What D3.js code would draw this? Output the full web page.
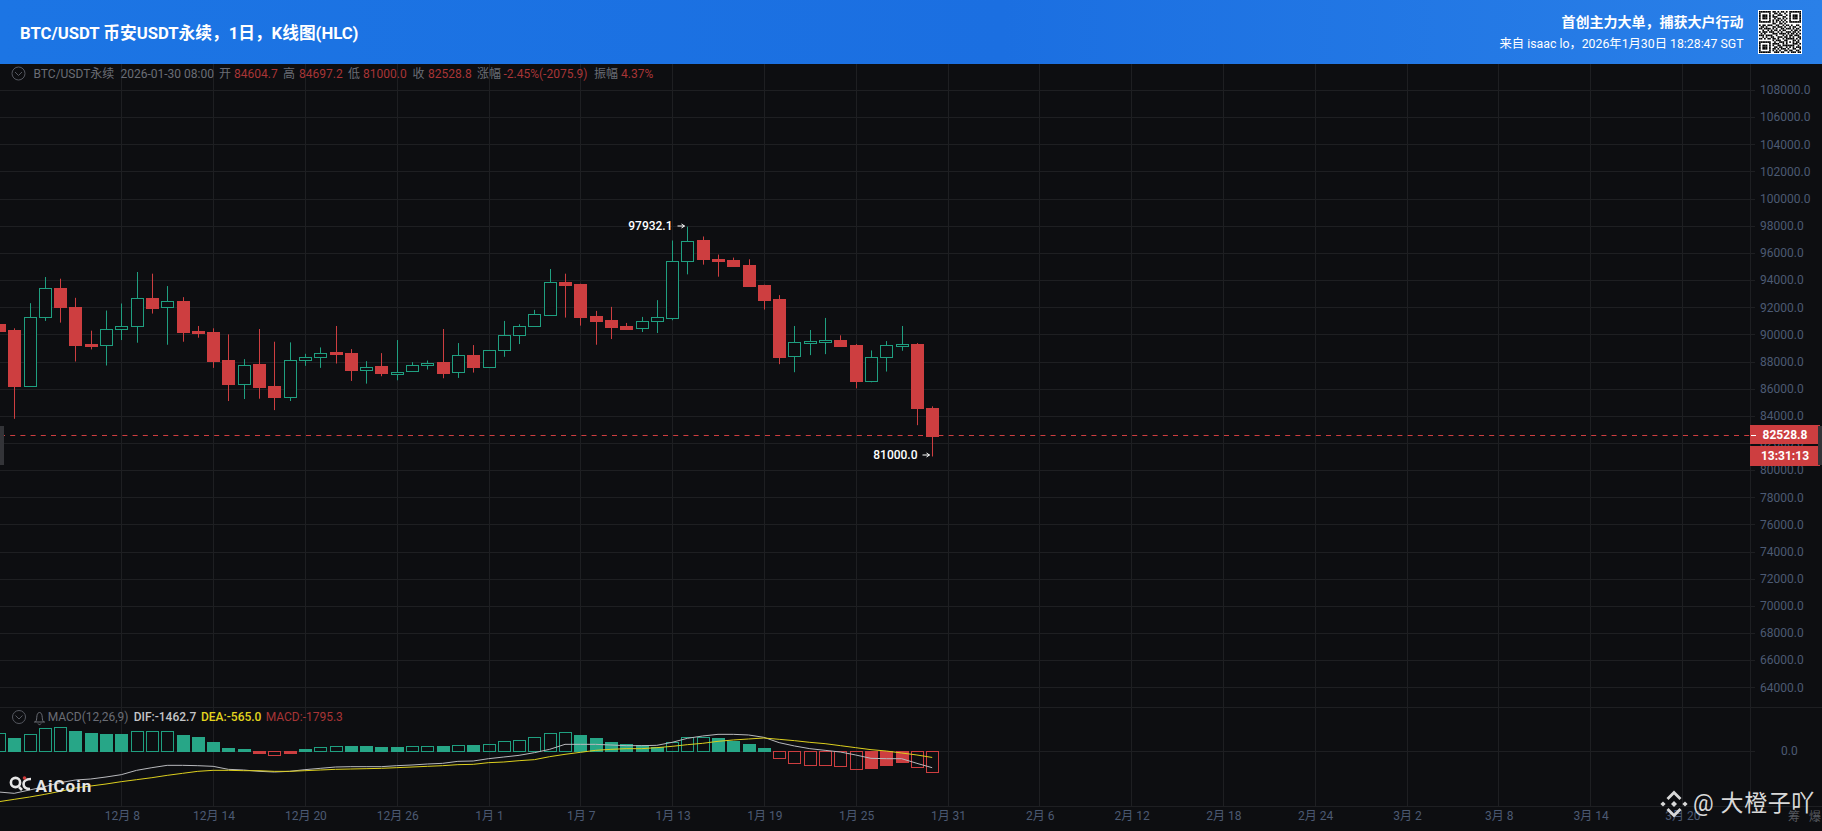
<!DOCTYPE html>
<html>
<head>
<meta charset="utf-8">
<script src="https://cdnjs.cloudflare.com/ajax/libs/d3/7.8.5/d3.min.js"></script>
<style>
html, body { margin: 0; padding: 0; background: #0d0e11; overflow: hidden; }
svg { display: block; }
text { font-family: Roboto, "Noto Sans CJK SC", sans-serif; }
</style>
</head>
<body>
<script>
// 日线数据，从 11月30日 到 1月30日
const firstDay = "2025-11-30";
const opens = [90766,90321,86198,91259,93407,92000,89284,89185,90370,90593,92691,92000,92469,90247,90173,88099,86346,87803,86173,85383,88074,88296,88691,88617,87383,87655,87136,87309,87753,87951,87161,88444,
    87556,88790,89901,90568,91457,93852,93728,91358,91062,90617,90420,90938,91235,95383,96914,95580,95506,95136,93654,92617,88346,89383,89457,89580,89210,86543,88272,89136,89284,84604.7];
const highs = [90850,90445,92296,94222,94099,92691,90272,91753,92272,94593,94469,93556,92741,90617,90445,90000,88173,90395,89457,89408,88568,89037,90617,88914,88025,88617,89580,87951,88074,90395,89358,89210,
    88815,90988,90741,91803,94815,94469,93728,91728,92025,90840,91284,92519,96914,97932.1,97210,95877,95654,95531,93654,92889,90617,90321,91210,89926,89284,88815,89506,90617,89358,84697.2];
const lows = [90200,83778,86124,90988,90864,88000,88889,87704,89580,89383,91531,89235,89457,89753,87531,85087,85235,85259,84420,85087,87679,87531,87852,86568,86370,86914,86617,87235,87408,86766,86790,87185,
    87556,88346,89284,90568,91457,91235,90642,89235,89654,90346,90173,90099,91037,94420,95136,94247,94988,93580,91827,87803,87210,88469,88543,89136,86025,86469,87259,88790,83309,81000];
const closes = [90247,86198,91259,93407,91975,89235,89160,90370,90593,92667,91975,92445,90198,90124,88049,86346,87778,86099,85358,88074,88296,88593,88543,87358,87630,87136,87260,87778,87926,87136,88444,87531,
    88815,89926,90593,91482,93852,93654,91309,90988,90543,90395,90963,91259,95407,96889,95506,95457,95062,93580,92543,88321,89407,89506,89580,89136,86543,88321,89185,89309,84543,82528.8];

const macdValues = [1548,1139,1460,1986,2073,1752,1577,1489,1489,1723,1723,1723,1402,1226,788,263,175,-146,-380,-146,175,321,409,438,438,380,380,438,438,438,496,526,
    584,847,993,1197,1548,1635,1402,1139,788,613,496,350,759,1197,1197,1139,905,613,263,-584,-1022,-1197,-1197,-1285,-1548,-1460,-1197,-964,-1372,-1795.3];
const macdFilled = [0,1,0,0,0,1,1,1,1,0,0,0,1,1,1,1,1,1,0,1,1,0,0,1,1,1,1,0,0,1,0,1,
    0,0,0,0,0,0,1,1,1,1,1,1,0,0,0,1,1,1,1,0,0,0,0,0,0,1,1,1,0,0];
const difValues = [-3592,-3708,-3416,-3124,-2774,-2540,-2453,-2278,-2073,-1694,-1460,-1256,-1256,-1285,-1343,-1606,-1664,-1781,-1840,-1781,-1635,-1518,-1402,-1372,-1372,-1372,-1285,-1226,-1139,-1080,-905,-876,
    -672,-526,-380,-146,146,584,584,584,526,467,467,496,759,1110,1314,1460,1460,1402,1197,730,438,204,58,-88,-350,-642,-672,-672,-1080,-1462.7];
const deaValues = [-4438,-4234,-4030,-3796,-3533,-3241,-3066,-2891,-2686,-2511,-2336,-2132,-1956,-1781,-1694,-1694,-1723,-1723,-1781,-1781,-1723,-1664,-1606,-1577,-1548,-1518,-1460,-1402,-1343,-1285,-1197,-1168,
    -1022,-964,-847,-759,-496,-292,-117,58,146,204,204,292,409,555,672,847,964,1051,1139,1022,905,759,642,467,292,117,0,-175,-350,-565];

const priceTicks = d3.range(64000, 108001, 2000);
const dateTicks = ["2025-12-08","2025-12-14","2025-12-20","2025-12-26","2026-01-01","2026-01-07","2026-01-13","2026-01-19","2026-01-25","2026-01-31",
    "2026-02-06","2026-02-12","2026-02-18","2026-02-24","2026-03-02","2026-03-08","2026-03-14","2026-03-20"];

const lastPrice = 82528.8;
const countdown = "13:31:13";
const infoItems = [
    {x: 33.5, t: "BTC/USDT永续", c: "grey"}, {x: 120.5, t: "2026-01-30 08:00", c: "grey"},
    {x: 219, t: "开", c: "grey"}, {x: 234, t: "84604.7", c: "red"},
    {x: 283, t: "高", c: "grey"}, {x: 299, t: "84697.2", c: "red"},
    {x: 348, t: "低", c: "grey"}, {x: 363, t: "81000.0", c: "red"},
    {x: 412.5, t: "收", c: "grey"}, {x: 428, t: "82528.8", c: "red"},
    {x: 477, t: "涨幅", c: "grey"}, {x: 503.5, t: "-2.45%(-2075.9)", c: "red"},
    {x: 594, t: "振幅", c: "grey"}, {x: 621, t: "4.37%", c: "red"}
];
// 二维码，只是装饰
const qrRows = [
    "1111111011010110101111111",
    "1000001001101001001000001",
    "1011101010011100101011101",
    "1011101011100011001011101",
    "1011101001011010101011101",
    "1000001010110101001000001",
    "1111111010101010101111111",
    "0000000011001101000000000",
    "1011011100110010110100110",
    "0110100011011101001011001",
    "1101111010100110111010110",
    "0010010101101011000101101",
    "1011101110010100111011010",
    "0101000011101111010110101",
    "1110111100100010101101110",
    "0010100110011101101010011",
    "1101011011010010111110101",
    "0000000010111001100011010",
    "1111111001001110101010110",
    "1000001011110010100011101",
    "1011101010011011111110010",
    "1011101001101100101010111",
    "1011101011010111010011001",
    "1000001010101001101100110",
    "1111111001110110010111011"
];

const W = 1822, H = 831;
const BG = "#0d0e11", GRID = "#1e1f22", RED = "#cd3e40", GREEN = "#1f9f80", AXIS = "#4c5a73";
const chartRight = 1750, headerH = 64, paneTop = 707, paneBottom = 807;

const parseDay = d3.utcParse("%Y-%m-%d");
const day0 = parseDay(firstDay);
const candles = closes.map((c, i) => ({
    date: d3.utcDay.offset(day0, i), open: opens[i], high: highs[i], low: lows[i], close: c,
    macd: macdValues[i], filled: macdFilled[i], dif: difValues[i], dea: deaValues[i]
}));

const x = d3.scaleUtc().domain([parseDay("2025-12-08"), parseDay("2026-01-31")]).range([121.3, 947.5]);
const y = d3.scaleLinear().domain([64000, 108000]).range([687.3, 90]);
const yMacd = d3.scaleLinear().domain([-1795.3, 0]).range([771.5, 751]);
const px = d => Math.round(x(d)) + 0.5;
const bodyW = 12;

const svg = d3.select("body").append("svg").attr("width", W).attr("height", H);
svg.append("rect").attr("width", W).attr("height", H).attr("fill", BG);

// 页眉
const grad = svg.append("defs").append("linearGradient").attr("id", "hdr");
grad.append("stop").attr("offset", "0").attr("stop-color", "#1c75e4");
grad.append("stop").attr("offset", "0.55").attr("stop-color", "#1b6fe1");
grad.append("stop").attr("offset", "1").attr("stop-color", "#2a80e8");
svg.append("rect").attr("width", W).attr("height", headerH).attr("fill", "url(#hdr)");
svg.append("text").attr("x", 20).attr("y", 38.5).attr("fill", "#fff").attr("font-size", 16.7).attr("font-weight", 700)
    .text("BTC/USDT 币安USDT永续，1日，K线图(HLC)");
svg.append("text").attr("x", 1743.5).attr("y", 26.5).attr("text-anchor", "end").attr("fill", "#fff").attr("font-size", 14).attr("font-weight", 700)
    .text("首创主力大单，捕获大户行动");
svg.append("text").attr("x", 1743.5).attr("y", 48).attr("text-anchor", "end").attr("fill", "#fff").attr("font-size", 12.3)
    .text("来自 isaac lo，2026年1月30日 18:28:47 SGT");

const qr = svg.append("g").attr("transform", "translate(1758,10)");
qr.append("rect").attr("width", 44).attr("height", 44).attr("fill", "#fff");
const qrCell = 42 / qrRows.length;
qrRows.forEach((row, r) => row.split("").forEach((b, c) => {
    if (b === "1") qr.append("rect").attr("x", 1 + c * qrCell).attr("y", 1 + r * qrCell)
        .attr("width", qrCell).attr("height", qrCell).attr("fill", "#000");
}));

// 网格和坐标轴
const grid = svg.append("g").attr("stroke", GRID).attr("stroke-width", 1);
const dateList = dateTicks.map(parseDay);
grid.selectAll(".v").data(dateList).enter().append("line")
    .attr("x1", d => px(d)).attr("x2", d => px(d)).attr("y1", headerH).attr("y2", paneBottom);
grid.selectAll(".h").data(priceTicks).enter().append("line")
    .attr("x1", 0).attr("x2", 1755).attr("y1", d => Math.round(y(d)) + 0.5).attr("y2", d => Math.round(y(d)) + 0.5);
grid.append("line").attr("x1", 0).attr("x2", 1755).attr("y1", yMacd(0) + 0.5).attr("y2", yMacd(0) + 0.5);
grid.append("line").attr("x1", 0).attr("x2", W).attr("y1", paneTop + 0.5).attr("y2", paneTop + 0.5);
grid.append("line").attr("x1", 0).attr("x2", W).attr("y1", paneBottom - 0.5).attr("y2", paneBottom - 0.5);
grid.append("line").attr("x1", chartRight + 0.5).attr("x2", chartRight + 0.5).attr("y1", headerH).attr("y2", paneBottom);

const yAxis = svg.append("g").attr("transform", `translate(${chartRight + 10},0)`)
    .call(d3.axisRight(y).tickValues(priceTicks).tickSize(0).tickPadding(0).tickFormat(d => d.toFixed(1)));
const yAxis2 = svg.append("g").attr("transform", `translate(${chartRight + 31},0)`)
    .call(d3.axisRight(yMacd).tickValues([0]).tickSize(0).tickPadding(0).tickFormat(d => d.toFixed(1)));
const xAxis = svg.append("g").attr("transform", `translate(0.5,${paneBottom + 4})`)
    .call(d3.axisBottom(x).tickValues(dateList).tickSize(0).tickPadding(0)
        .tickFormat(d => `${d.getUTCMonth() + 1}月 ${d.getUTCDate()}`));
[yAxis, yAxis2, xAxis].forEach(a => {
    a.select(".domain").remove();
    a.selectAll("text").attr("fill", AXIS).attr("font-size", 12);
});
xAxis.selectAll("text").attr("font-family", 'Roboto, "Noto Sans CJK SC", sans-serif');

// K线
const candle = svg.append("g").selectAll("g").data(candles).enter().append("g");
candle.append("line")
    .attr("x1", d => px(d.date)).attr("x2", d => px(d.date))
    .attr("y1", d => y(d.high)).attr("y2", d => y(d.low))
    .attr("stroke", d => d.close >= d.open ? GREEN : RED);
candle.append("rect")
    .attr("x", d => px(d.date) - bodyW / 2)
    .attr("width", bodyW)
    .attr("y", d => Math.round(y(Math.max(d.open, d.close))) + 0.5)
    .attr("height", d => Math.max(1, Math.round(Math.abs(y(d.open) - y(d.close)))))
    .attr("fill", d => d.close >= d.open ? BG : RED)
    .attr("stroke", d => d.close >= d.open ? GREEN : RED);

// 最高最低标注
const annotate = (value, dateIdx, ty) => {
    const d = candles[dateIdx];
    const ax = px(d.date) - 3;
    svg.append("text").attr("x", ax - 12).attr("y", ty + 4).attr("text-anchor", "end")
        .attr("fill", "#fff").attr("font-size", 12).attr("font-weight", 500).text(value.toFixed(1));
    svg.append("path").attr("d", `M${ax - 7},${ty}H${ax}M${ax - 3},${ty - 2}L${ax},${ty}L${ax - 3},${ty + 2}`)
        .attr("fill", "none").attr("stroke", "#fff");
};
annotate(d3.max(highs), highs.indexOf(d3.max(highs)), Math.round(y(d3.max(highs))) - 1);
annotate(d3.min(lows), lows.indexOf(d3.min(lows)), Math.round(y(d3.min(lows))) - 2);

// 现价线
const lastY = Math.round(y(lastPrice)) - 0.5;
svg.append("line").attr("x1", 0).attr("x2", chartRight).attr("y1", lastY).attr("y2", lastY)
    .attr("stroke", RED).attr("stroke-dasharray", "5,5.2");
svg.append("rect").attr("x", chartRight).attr("y", 425).attr("width", 70).attr("height", 19).attr("fill", RED);
svg.append("rect").attr("x", chartRight).attr("y", 446).attr("width", 70).attr("height", 20).attr("fill", RED);
svg.append("line").attr("x1", chartRight + 1).attr("x2", chartRight + 6).attr("y1", lastY).attr("y2", lastY).attr("stroke", "#fff");
svg.append("text").attr("x", 1785).attr("y", 439).attr("text-anchor", "middle").attr("fill", "#fff")
    .attr("font-size", 12).attr("font-weight", 700).text(lastPrice.toFixed(1));
svg.append("text").attr("x", 1785).attr("y", 460).attr("text-anchor", "middle").attr("fill", "#fff")
    .attr("font-size", 12).attr("font-weight", 700).text(countdown);
svg.append("rect").attr("x", 1818).attr("y", 426).attr("width", 4).attr("height", 39).attr("fill", "#333438");
svg.append("rect").attr("x", 0).attr("y", 426).attr("width", 4).attr("height", 39).attr("fill", "#333438");

// 信息栏
const chevron = (cx, cy) => {
    svg.append("circle").attr("cx", cx).attr("cy", cy).attr("r", 6.5).attr("fill", "none").attr("stroke", "#555860");
    svg.append("path").attr("d", `M${cx - 3.5},${cy - 1.5}L${cx},${cy + 2}L${cx + 3.5},${cy - 1.5}`).attr("fill", "none").attr("stroke", "#555860");
};
chevron(18.5, 73.5);
svg.append("g").selectAll("text").data(infoItems).enter().append("text")
    .attr("x", d => d.x).attr("y", 77.5).attr("font-size", 12)
    .attr("fill", d => d.c === "red" ? "#a83536" : "#6a6d75").text(d => d.t);

// MACD
const bars = svg.append("g").selectAll("rect").data(candles).enter().append("rect")
    .attr("x", d => px(d.date) - bodyW / 2)
    .attr("width", bodyW)
    .attr("y", d => Math.round(yMacd(Math.max(0, d.macd))) + 0.5)
    .attr("height", d => Math.max(1, Math.round(Math.abs(yMacd(d.macd) - yMacd(0)))))
    .attr("fill", d => d.filled ? (d.macd >= 0 ? "#27a687" : RED) : "none")
    .attr("stroke", d => d.macd >= 0 ? (d.filled ? "#27a687" : GREEN) : RED);

const lineOf = key => d3.line().x(d => x(d.date)).y(d => yMacd(d[key])).curve(d3.curveLinear)(candles);
svg.append("path").attr("d", lineOf("dif")).attr("fill", "none").attr("stroke", "#b8b9bd").attr("stroke-width", 1);
svg.append("path").attr("d", lineOf("dea")).attr("fill", "none").attr("stroke", "#dccf1e").attr("stroke-width", 1);

chevron(19, 717);
svg.append("path").attr("d", "M34,722H45M35.5,722C37,720 36.5,718 37,715.5C37.6,711.5 41.4,711.5 42,715.5C42.5,718 42,720 43.5,722M38,723.5C38.6,725 40.4,725 41,723.5")
    .attr("fill", "none").attr("stroke", "#6a6d75");
svg.append("text").attr("x", 47.7).attr("y", 721).attr("font-size", 12).attr("fill", "#6a6d75").text("MACD(12,26,9)");
svg.append("text").attr("x", 133.7).attr("y", 721).attr("font-size", 12).attr("font-weight", 500).attr("fill", "#c4c5c8").text("DIF:-1462.7");
svg.append("text").attr("x", 201).attr("y", 721).attr("font-size", 12).attr("font-weight", 500).attr("fill", "#e3d51e").text("DEA:-565.0");
svg.append("text").attr("x", 265.7).attr("y", 721).attr("font-size", 12).attr("fill", "#a83536").text("MACD:-1795.3");

// AiCoin 水印
const logo = svg.append("g").attr("fill", "none").attr("stroke", "#e6e6e6").attr("stroke-width", 2.6);
logo.append("circle").attr("cx", 15.5).attr("cy", 782.5).attr("r", 4.6);
logo.append("path").attr("d", "M19,787L22,790M31,779C25,779 23.5,782 23.5,784C23.5,787 26,789 30,789");
svg.append("circle").attr("cx", 24.5).attr("cy", 778).attr("r", 1.8).attr("fill", "#d03a3a");
svg.append("text").attr("x", 35.5).attr("y", 792).attr("fill", "#e6e6e6").attr("font-size", 17).attr("font-weight", 700)
    .attr("letter-spacing", 1).text("AiCoin");

// 右下角
svg.append("text").attr("x", 1788).attr("y", 821).attr("fill", "#55585f").attr("font-size", 12).text("筹");
svg.append("text").attr("x", 1809).attr("y", 821).attr("fill", "#55585f").attr("font-size", 12).text("爆");
const bn = svg.append("g").attr("fill", "#d8d8d8").attr("transform", "translate(1674,804)");
const diamond = (cx, cy, r) => bn.append("path").attr("d", `M${cx},${cy - r}L${cx + r},${cy}L${cx},${cy + r}L${cx - r},${cy}Z`);
diamond(0, 0, 3); diamond(-11, 0, 2.6); diamond(11, 0, 2.6);
bn.append("path").attr("d", "M0,-13.5L7.5,-6L5.5,-4L0,-9.5L-5.5,-4L-7.5,-6Z");
bn.append("path").attr("d", "M0,13.5L7.5,6L5.5,4L0,9.5L-5.5,4L-7.5,6Z");
svg.append("text").attr("x", 1693).attr("y", 811).attr("fill", "#d8d8d8").attr("font-size", 23).attr("letter-spacing", 0.6).text("@ 大橙子吖");
</script>
</body>
</html>
